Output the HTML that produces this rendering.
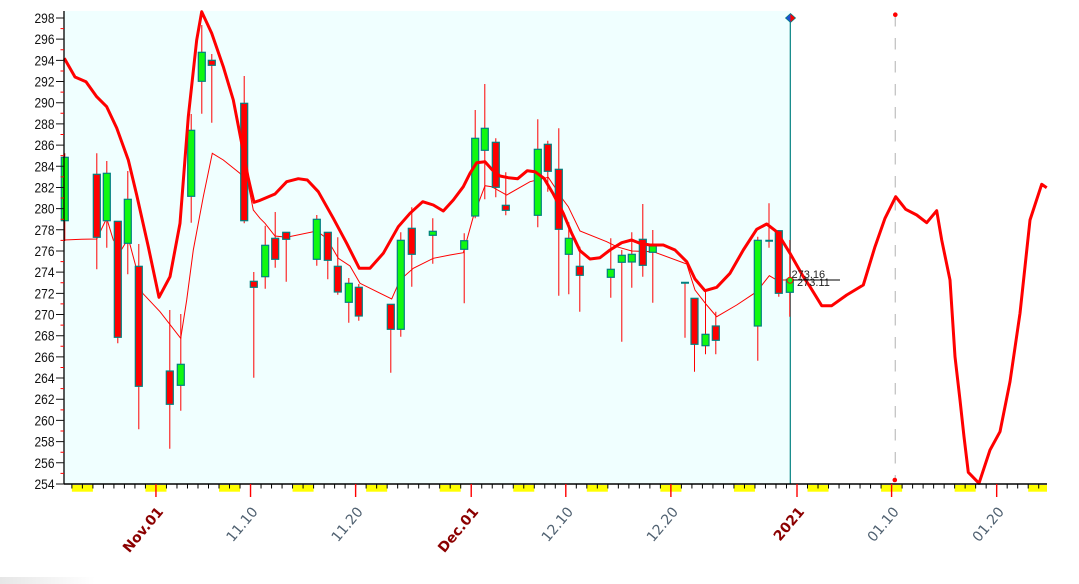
<!DOCTYPE html>
<html><head><meta charset="utf-8"><style>html,body{margin:0;padding:0;background:#fff}svg{display:block}</style></head>
<body>
<svg width="1079" height="584" viewBox="0 0 1079 584" xmlns="http://www.w3.org/2000/svg">
<defs>
<linearGradient id="gg" x1="0" y1="0" x2="1" y2="0"><stop offset="0" stop-color="#e6e6e6"/><stop offset="1" stop-color="#ffffff"/></linearGradient>
</defs>
<rect x="0" y="577" width="95" height="7" fill="url(#gg)"/>
<!-- plot bg -->
<rect x="64" y="11" width="726.3" height="473" fill="#F0FFFF"/>

<!-- dashed line at Jan 10 -->
<line x1="895.3" y1="15" x2="895.3" y2="480" stroke="#c4c4c4" stroke-width="1.3" stroke-dasharray="11.5 11.5"/>
<circle cx="895.3" cy="14.7" r="2.3" fill="#ff0000"/>
<circle cx="894.8" cy="480" r="2.3" fill="#ff0000"/>

<!-- teal line -->
<line x1="790.3" y1="18" x2="790.3" y2="484" stroke="#008080" stroke-width="1.2"/>

<!-- thin MA -->
<polyline fill="none" stroke="#ff0000" stroke-width="1" points="64,240 81.7,239.3 96.7,239 106.7,218.3 113.3,240 121.7,249.3 128.3,238.3 135,263.3 142.7,293.3 160,311.7 180.7,338.3 186.7,300 193.3,250 203.3,196.7 212.3,153.3 223.3,160 240,173.3 248.3,185 253.3,210 260,218.3 265,223.3 275,236 286.7,237.3 316.7,231 326.7,238.3 338.3,258.3 350,266 360,283.3 391.7,299 400,280 413.3,268.3 433.3,258.3 450,255 463.3,252.7 473.3,216.7 485,185.7 491.7,186.7 506.7,195 530,181.7 548.3,177.3 563.3,200 568.3,206.7 580,231 606.7,241.7 616.7,246.7 631.7,251 653.3,251.7 686.7,264 695,290 706.7,305 716.7,316.7 736.7,305 756.7,291.7 769.3,275.7 776.7,280 790,280"/>

<!-- wicks -->
<path fill="none" stroke="#ff0000" stroke-width="1" d="M64.8 153.3V241 M96.8 153.3V269.3 M106.8 161V247.7 M117.8 221.3V343.3 M127.8 171V274.3 M138.8 244V429.3 M169.8 310V448.7 M180.8 314V410.7 M191.2 114V222.7 M201.8 25V113.7 M211.8 54V122.7 M244.2 76V223.3 M253.8 272V377.7 M265.2 225.7V288.7 M275.2 212V267.7 M286.2 232.3V281.7 M316.8 215V265.7 M327.8 232.3V279.3 M337.8 237.3V294.7 M348.8 278V322.7 M358.8 284V320.7 M390.8 304.3V372.7 M400.8 232.3V336.7 M411.8 207.3V286.7 M432.8 218.3V263.7 M464.2 233.3V303.3 M475.2 110V218.3 M484.8 84V199.3 M495.8 138.3V197.3 M505.8 172.3V215.3 M537.8 119.3V227.3 M547.8 140.7V191.7 M558.8 128.3V295.7 M568.8 222.3V294.3 M579.8 246.7V311.7 M610.8 238.3V297.7 M621.8 250V341.7 M631.8 232.3V287.7 M642.8 204V276.7 M652.8 230V302.7 M685 282.7V337.7 M694.5 298.3V371.7 M705.5 290V354.3 M715.8 311.7V354.3 M757.8 236.7V360.7 M769 203.3V247.7 M778.8 230V296.7 M789.8 240V316.7"/>

<!-- bodies green -->
<g fill="#10f810" stroke="#008080" stroke-width="1.2">
<rect x="61.3" y="157.3" width="7" height="63.4"/>
<rect x="103.3" y="173.3" width="7" height="47.4"/>
<rect x="124.3" y="199.3" width="7" height="44"/>
<rect x="177.3" y="364.3" width="7" height="21"/>
<rect x="187.7" y="130.3" width="7" height="66"/>
<rect x="198.3" y="52.3" width="7" height="29"/>
<rect x="261.7" y="245.3" width="7" height="31.4"/>
<rect x="313.3" y="219.3" width="7" height="40"/>
<rect x="345.3" y="283.3" width="7" height="19"/>
<rect x="397.3" y="240.3" width="7" height="89"/>
<rect x="429.3" y="231.3" width="7" height="4"/>
<rect x="460.7" y="240.7" width="7" height="8.6"/>
<rect x="471.7" y="138.3" width="7" height="77.7"/>
<rect x="481.3" y="128.3" width="7" height="22"/>
<rect x="534.3" y="149.3" width="7" height="66"/>
<rect x="565.3" y="238.3" width="7" height="16"/>
<rect x="607.3" y="269.3" width="7" height="8"/>
<rect x="618.3" y="255.3" width="7" height="7"/>
<rect x="628.3" y="254.3" width="7" height="7.7"/>
<rect x="649.3" y="246" width="7" height="6.3"/>
<rect x="702" y="334.3" width="7" height="11.4"/>
<rect x="754.3" y="240.3" width="7" height="85.7"/>
<rect x="786.3" y="279.3" width="7" height="13"/>
</g>
<!-- bodies red -->
<g fill="#ff0000" stroke="#008080" stroke-width="1.2">
<rect x="93.3" y="174.3" width="7" height="63"/>
<rect x="114.3" y="221.3" width="7" height="116"/>
<rect x="135.3" y="266.3" width="7" height="120"/>
<rect x="166.3" y="371" width="7" height="33.3"/>
<rect x="208.3" y="60.3" width="7" height="5"/>
<rect x="240.7" y="103.3" width="7" height="117.4"/>
<rect x="250.3" y="281.3" width="7" height="6"/>
<rect x="271.7" y="238.3" width="7" height="21"/>
<rect x="282.7" y="232.3" width="7" height="7"/>
<rect x="324.3" y="232.3" width="7" height="28"/>
<rect x="334.3" y="266.3" width="7" height="25.7"/>
<rect x="355.3" y="287.3" width="7" height="28.7"/>
<rect x="387.3" y="304.3" width="7" height="25"/>
<rect x="408.3" y="228.3" width="7" height="26"/>
<rect x="492.3" y="142.3" width="7" height="45"/>
<rect x="502.3" y="205.3" width="7" height="5"/>
<rect x="544.3" y="144.3" width="7" height="27"/>
<rect x="555.3" y="169.3" width="7" height="60"/>
<rect x="576.3" y="266.3" width="7" height="9"/>
<rect x="639.3" y="239.3" width="7" height="26"/>
<rect x="691" y="298.3" width="7" height="46"/>
<rect x="712.3" y="326" width="7" height="14.3"/>
<rect x="775.3" y="230.7" width="7" height="62.6"/>
</g>
<!-- dojis -->
<path d="M681 282.7H689 M765.3 240.7H773" stroke="#008080" stroke-width="2"/>

<!-- thick MA -->
<polyline fill="none" stroke="#ff0000" stroke-width="3" stroke-linejoin="round" points="64.3,58.3 75,77 86,81.7 96.7,96.7 106.7,106.7 116.7,128 128.3,160 136.7,195 148.3,246.7 159,297.3 170,276.7 180,223.3 188.3,116.7 196.7,40 201.7,11.7 211.7,33.3 223.3,66.7 233.3,100 241.7,143.3 248,177 251,190 254,202.3 259,200.7 275,194 286.7,181.7 298.3,178.7 307.3,180 318.3,191.7 333.3,218.3 346.7,243.3 359.3,268.3 370,268.3 383.3,253.3 398.3,226.7 410,213.3 422.7,201.7 433.3,205 443.3,211 453.3,200 463.3,186.7 470,173.3 476.7,162.7 485,161.7 491.7,169.3 500,176 508.3,177.7 517.7,178.7 527.3,170.7 535,171.7 544,178.3 553.3,194 563.3,213.3 571.7,233.3 580,250.7 590,259 600,257.7 610,250 621.7,242.7 631.7,240 640,243.3 650,245 663.3,245 675,250 686.7,261.7 695,279 705,290.7 716.7,287.3 730,273.3 743.3,250 756.7,229.3 766.7,224 776.7,231.7 790,253.3 803.3,276.7 810,286.7 821.7,305.7 831.7,305.7 846.7,295 863.3,285 875,246.7 885,218.3 895.7,196.7 905.7,209.3 916.7,215 926.7,222.7 936.7,210.7 941.7,240 950,280 955,356.7 960,400 964,436.7 968.3,472.3 979,483.3 990,450 1000,431.7 1010,381.7 1020,313.3 1030,220 1041.7,184.3 1046.7,187.7"/>

<!-- last value marker + labels -->
<line x1="791.7" y1="280" x2="840" y2="280" stroke="#000" stroke-width="1"/>
<circle cx="790" cy="280.3" r="3" fill="#10f810" stroke="#ff0000" stroke-width="1"/>
<text x="791.5" y="278" font-family="Liberation Sans, Arial, sans-serif" font-size="11" fill="#222">273.16</text>
<text x="797" y="286" font-family="Liberation Sans, Arial, sans-serif" font-size="11" fill="#222">273.11</text>

<!-- diamond -->
<polygon points="785.5,18 790.5,13.5 790.5,22.5" fill="#2050d0"/>
<polygon points="790.5,13.5 795.5,18 790.5,22.5" fill="#ff0000"/>
<polygon points="785.5,18 790.5,13.5 795.5,18 790.5,22.5" fill="none" stroke="#008080" stroke-width="0.8"/>

<!-- Y axis -->
<line x1="64" y1="11" x2="64" y2="484.5" stroke="#000" stroke-width="1.3"/>
<path fill="none" stroke="#ff0000" stroke-width="1" d="M60.5 28.59H64 M60.5 49.77H64 M60.5 70.95H64 M60.5 92.13H64 M60.5 113.31H64 M60.5 134.49H64 M60.5 155.67H64 M60.5 176.85H64 M60.5 198.03H64 M60.5 219.21H64 M60.5 240.39H64 M60.5 261.57H64 M60.5 282.75H64 M60.5 303.93H64 M60.5 325.11H64 M60.5 346.29H64 M60.5 367.47H64 M60.5 388.65H64 M60.5 409.83H64 M60.5 431.01H64 M60.5 452.19H64 M60.5 473.37H64"/>
<path fill="none" stroke="#111" stroke-width="1" d="M56 18H64 M56 39.18H64 M56 60.36H64 M56 81.54H64 M56 102.72H64 M56 123.9H64 M56 145.08H64 M56 166.26H64 M56 187.44H64 M56 208.62H64 M56 229.8H64 M56 250.98H64 M56 272.16H64 M56 293.34H64 M56 314.52H64 M56 335.7H64 M56 356.88H64 M56 378.06H64 M56 399.24H64 M56 420.42H64 M56 441.6H64 M56 462.78H64 M56 483.96H64"/>
<g font-family="Liberation Sans, Arial, sans-serif" font-size="14" fill="#111" text-anchor="end">
<text x="54.5" y="23" textLength="20" lengthAdjust="spacingAndGlyphs">298</text>
<text x="54.5" y="44.18" textLength="20" lengthAdjust="spacingAndGlyphs">296</text>
<text x="54.5" y="65.36" textLength="20" lengthAdjust="spacingAndGlyphs">294</text>
<text x="54.5" y="86.54" textLength="20" lengthAdjust="spacingAndGlyphs">292</text>
<text x="54.5" y="107.72" textLength="20" lengthAdjust="spacingAndGlyphs">290</text>
<text x="54.5" y="128.9" textLength="20" lengthAdjust="spacingAndGlyphs">288</text>
<text x="54.5" y="150.08" textLength="20" lengthAdjust="spacingAndGlyphs">286</text>
<text x="54.5" y="171.26" textLength="20" lengthAdjust="spacingAndGlyphs">284</text>
<text x="54.5" y="192.44" textLength="20" lengthAdjust="spacingAndGlyphs">282</text>
<text x="54.5" y="213.62" textLength="20" lengthAdjust="spacingAndGlyphs">280</text>
<text x="54.5" y="234.8" textLength="20" lengthAdjust="spacingAndGlyphs">278</text>
<text x="54.5" y="255.98" textLength="20" lengthAdjust="spacingAndGlyphs">276</text>
<text x="54.5" y="277.16" textLength="20" lengthAdjust="spacingAndGlyphs">274</text>
<text x="54.5" y="298.34" textLength="20" lengthAdjust="spacingAndGlyphs">272</text>
<text x="54.5" y="319.52" textLength="20" lengthAdjust="spacingAndGlyphs">270</text>
<text x="54.5" y="340.7" textLength="20" lengthAdjust="spacingAndGlyphs">268</text>
<text x="54.5" y="361.88" textLength="20" lengthAdjust="spacingAndGlyphs">266</text>
<text x="54.5" y="383.06" textLength="20" lengthAdjust="spacingAndGlyphs">264</text>
<text x="54.5" y="404.24" textLength="20" lengthAdjust="spacingAndGlyphs">262</text>
<text x="54.5" y="425.42" textLength="20" lengthAdjust="spacingAndGlyphs">260</text>
<text x="54.5" y="446.6" textLength="20" lengthAdjust="spacingAndGlyphs">258</text>
<text x="54.5" y="467.78" textLength="20" lengthAdjust="spacingAndGlyphs">256</text>
<text x="54.5" y="488.96" textLength="20" lengthAdjust="spacingAndGlyphs">254</text>
</g>

<!-- X axis weekend blocks -->
<g fill="#ffff00">
<rect x="71.88" y="485" width="21.02" height="6.7"/>
<rect x="145.44" y="485" width="21.02" height="6.7"/>
<rect x="219" y="485" width="21.02" height="6.7"/>
<rect x="292.57" y="485" width="21.02" height="6.7"/>
<rect x="366.13" y="485" width="21.02" height="6.7"/>
<rect x="439.69" y="485" width="21.02" height="6.7"/>
<rect x="513.26" y="485" width="21.02" height="6.7"/>
<rect x="586.82" y="485" width="21.02" height="6.7"/>
<rect x="660.38" y="485" width="21.02" height="6.7"/>
<rect x="733.95" y="485" width="21.02" height="6.7"/>
<rect x="807.51" y="485" width="21.02" height="6.7"/>
<rect x="881.07" y="485" width="21.02" height="6.7"/>
<rect x="954.64" y="485" width="21.02" height="6.7"/>
<rect x="1028.2" y="485" width="18.8" height="6.7"/>
</g>
<line x1="64" y1="484" x2="1047" y2="484" stroke="#000" stroke-width="1.4"/>
<path fill="none" stroke="#000" stroke-width="1" d="M71.88 484v4.5M82.39 484v4.5M92.9 484v4.5M103.41 484v4.5M113.92 484v4.5M124.42 484v4.5M134.93 484v4.5M145.44 484v4.5M155.95 484v4.5M166.46 484v4.5M176.97 484v4.5M187.48 484v4.5M197.99 484v4.5M208.5 484v4.5M219 484v4.5M229.51 484v4.5M240.02 484v4.5M250.53 484v4.5M261.04 484v4.5M271.55 484v4.5M282.06 484v4.5M292.57 484v4.5M303.08 484v4.5M313.59 484v4.5M324.1 484v4.5M334.6 484v4.5M345.11 484v4.5M355.62 484v4.5M366.13 484v4.5M376.64 484v4.5M387.15 484v4.5M397.66 484v4.5M408.17 484v4.5M418.68 484v4.5M429.19 484v4.5M439.69 484v4.5M450.2 484v4.5M460.71 484v4.5M471.22 484v4.5M481.73 484v4.5M492.24 484v4.5M502.75 484v4.5M513.26 484v4.5M523.77 484v4.5M534.28 484v4.5M544.78 484v4.5M555.29 484v4.5M565.8 484v4.5M576.31 484v4.5M586.82 484v4.5M597.33 484v4.5M607.84 484v4.5M618.35 484v4.5M628.86 484v4.5M639.37 484v4.5M649.87 484v4.5M660.38 484v4.5M670.89 484v4.5M681.4 484v4.5M691.91 484v4.5M702.42 484v4.5M712.93 484v4.5M723.44 484v4.5M733.95 484v4.5M744.46 484v4.5M754.96 484v4.5M765.47 484v4.5M775.98 484v4.5M786.49 484v4.5M797 484v4.5M807.51 484v4.5M818.02 484v4.5M828.53 484v4.5M839.04 484v4.5M849.55 484v4.5M860.05 484v4.5M870.56 484v4.5M881.07 484v4.5M891.58 484v4.5M902.09 484v4.5M912.6 484v4.5M923.11 484v4.5M933.62 484v4.5M944.13 484v4.5M954.64 484v4.5M965.14 484v4.5M975.65 484v4.5M986.16 484v4.5M996.67 484v4.5M1007.18 484v4.5M1017.69 484v4.5M1028.2 484v4.5M1038.71 484v4.5"/>
<path fill="none" stroke="#ff0000" stroke-width="1.4" d="M155.95 484V497M250.53 484V497M355.62 484V497M471.22 484V497M565.8 484V497M670.89 484V497M797 484V497M891.58 484V497M996.67 484V497"/>

<!-- X labels -->
<g font-family="DejaVu Sans, Verdana, sans-serif" font-size="14" text-anchor="end">
<text transform="translate(164,512) rotate(-50)" fill="#8b0000" font-weight="bold">Nov.01</text>
<text transform="translate(258.5,512) rotate(-50)" fill="#4f6070">11.10</text>
<text transform="translate(363.6,512) rotate(-50)" fill="#4f6070">11.20</text>
<text transform="translate(479.2,512) rotate(-50)" fill="#8b0000" font-weight="bold">Dec.01</text>
<text transform="translate(573.8,512) rotate(-50)" fill="#4f6070">12.10</text>
<text transform="translate(678.9,512) rotate(-50)" fill="#4f6070">12.20</text>
<text transform="translate(805,512) rotate(-50)" fill="#8b0000" font-weight="bold">2021</text>
<text transform="translate(899.6,512) rotate(-50)" fill="#4f6070">01.10</text>
<text transform="translate(1004.7,512) rotate(-50)" fill="#4f6070">01.20</text>
</g>
</svg>
</body></html>
